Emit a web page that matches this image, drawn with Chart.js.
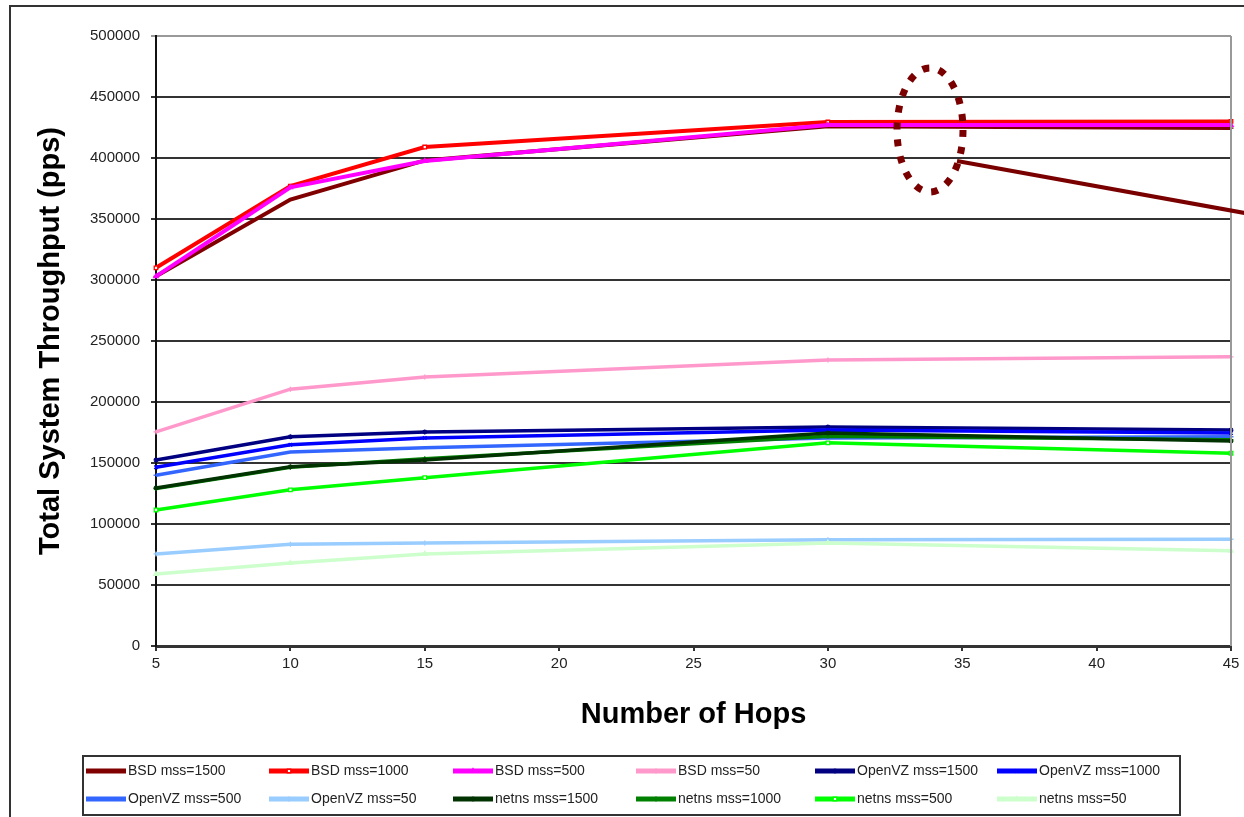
<!DOCTYPE html>
<html><head><meta charset="utf-8">
<script src="https://cdn.jsdelivr.net/npm/chart.js@4.4.0/dist/chart.umd.min.js"></script>
<style>html,body{margin:0;padding:0;background:#fff;}#wrap{width:1244px;height:817px;}</style>
</head><body><div id="wrap"><canvas id="c" width="1244" height="817"></canvas></div>
<script>
// ---- data ----
const hops = [5, 10, 15, 30, 45];
const xTickValues = [5, 10, 15, 20, 25, 30, 35, 40, 45];
const yTickValues = [0, 50000, 100000, 150000, 200000, 250000, 300000, 350000, 400000, 450000, 500000];
const seriesNames = ["BSD mss=1500", "BSD mss=1000", "BSD mss=500", "BSD mss=50",
  "OpenVZ mss=1500", "OpenVZ mss=1000", "OpenVZ mss=500", "OpenVZ mss=50",
  "netns mss=1500", "netns mss=1000", "netns mss=500", "netns mss=50"];
const bsd1500 = [303000, 366000, 398000, 426000, 424500];
const bsd1000 = [310000, 377000, 409000, 429500, 430000];
const bsd500  = [303000, 376000, 397500, 427000, 427000];
const bsd50   = [175500, 210500, 220500, 234500, 237000];
const ovz1500 = [152500, 171500, 175500, 179500, 177000];
const ovz1000 = [146500, 165000, 170500, 177000, 174500];
const ovz500  = [140000, 159000, 162500, 170500, 171500];
const ovz50   = [75500, 83500, 84500, 87000, 87500];
const ns1500  = [129500, 147000, 152500, 174500, 168000];
const ns1000  = [129000, 146500, 153500, 172000, 169000];
const ns500   = [111500, 128000, 138000, 166500, 158000];
const ns50    = [59000, 68000, 75500, 84500, 78000];
const seriesValues = [bsd1500, bsd1000, bsd500, bsd50, ovz1500, ovz1000, ovz500, ovz50, ns1500, ns1000, ns500, ns50];
const highlightHop = 33.8, highlightValue = 423000;

// ---- styles ----
const colors = ["#800000", "#FF0000", "#FF00FF", "#FF99CC", "#000080", "#0000FF", "#3366FF", "#99CCFF",
  "#003300", "#008000", "#00FF00", "#CCFFCC"];
const pStyles = ["line", "rect", "triangle", "cross", "star", "crossRot", "line", "cross",
  "star", "cross", "rect", "triangle"];
const widths = [4, 4, 4, 3.5, 3.5, 3.5, 3.5, 3.5, 3.5, 3.5, 3.5, 3.5];
const drawOrder = [0, -1, -2, -3, -4, -5, -6, -7, -10, -9, -11, -12];

const datasets = seriesNames.map((name, i) => ({
  label: name,
  data: hops.map((h, j) => ({x: h, y: seriesValues[i][j]})),
  borderColor: colors[i],
  backgroundColor: (pStyles[i] === "rect") ? "#ffffff" : colors[i],
  pointBorderColor: colors[i],
  pointStyle: pStyles[i],
  pointRadius: 2.5,
  pointBorderWidth: 1.3,
  borderWidth: widths[i],
  tension: 0,
  order: drawOrder[i],
  clip: false
}));

const decor = {
  id: "decor",
  beforeDraw(chart) {
    const ctx = chart.ctx;
    ctx.save();
    ctx.fillStyle = "#fff";
    ctx.fillRect(0, 0, chart.width, chart.height);
    ctx.restore();
  },
  afterDraw(chart) {
    const ctx = chart.ctx, a = chart.chartArea;
    const xs = chart.scales.x, ys = chart.scales.y;
    ctx.save();
    // outer frame
    ctx.strokeStyle = "#333"; ctx.lineWidth = 2;
    ctx.beginPath(); ctx.moveTo(10, 817); ctx.lineTo(10, 6); ctx.lineTo(1244, 6); ctx.stroke();
    // plot right border
    ctx.strokeStyle = "#999"; ctx.lineWidth = 2;
    ctx.beginPath(); ctx.moveTo(a.right, a.top); ctx.lineTo(a.right, a.bottom); ctx.stroke();
    // highlight ellipse
    const cx = xs.getPixelForValue(highlightHop), cy = ys.getPixelForValue(highlightValue);
    ctx.strokeStyle = "#7A0000"; ctx.lineWidth = 7; ctx.setLineDash([7, 10]);
    ctx.beginPath(); ctx.ellipse(cx, cy, 33, 62, 0, 0, Math.PI * 2); ctx.stroke();
    ctx.setLineDash([]);
    ctx.lineWidth = 4;
    ctx.beginPath(); ctx.moveTo(cx + 27, cy + 31); ctx.lineTo(1250, cy + 84); ctx.stroke();
    // legend
    ctx.strokeStyle = "#333"; ctx.lineWidth = 2;
    ctx.strokeRect(83, 756, 1097, 59);
    const colX = [86, 269, 453, 636, 815, 997];
    const rowY = [771, 799];
    ctx.font = "14px 'Liberation Sans', Arial, sans-serif";
    ctx.textBaseline = "middle";
    chart.data.datasets.forEach((ds, i) => {
      const r = Math.floor(i / 6), c = i % 6;
      const x0 = colX[c], y0 = rowY[r];
      ctx.strokeStyle = ds.borderColor; ctx.lineWidth = 5;
      ctx.beginPath(); ctx.moveTo(x0, y0); ctx.lineTo(x0 + 40, y0); ctx.stroke();
      ctx.fillStyle = ds.backgroundColor; ctx.lineWidth = 1.3;
      Chart.helpers.drawPoint(ctx, {pointStyle: ds.pointStyle, radius: 2.5, rotation: 0, borderWidth: 1.3},
        x0 + 20, y0);
      ctx.fillStyle = "#222";
      ctx.fillText(ds.label, x0 + 42, y0);
    });
    ctx.restore();
  }
};

new Chart(document.getElementById("c"), {
  type: "line",
  data: {datasets},
  options: {
    responsive: false,
    animation: false,
    devicePixelRatio: 1,
    layout: {padding: {left: 0, top: 36, right: 13, bottom: 71}},
    plugins: {legend: {display: false}, tooltip: {enabled: false}},
    scales: {
      x: {
        type: "linear", min: 5, max: 45,
        afterBuildTicks: s => { s.ticks = xTickValues.map(v => ({value: v})); },
        afterFit: s => { s.height = 100; },
        grid: {drawOnChartArea: false, drawTicks: true, tickLength: 5, color: "#333", lineWidth: 2},
        border: {color: "#333", width: 3},
        ticks: {color: "#222", font: {size: 15, family: "'Liberation Sans', Arial"}, padding: 4, maxRotation: 0},
        title: {display: true, text: "Number of Hops", color: "#000",
          font: {size: 29, weight: "bold", family: "'Liberation Sans', Arial"}, padding: {top: 0, bottom: 14}}
      },
      y: {
        type: "linear", min: 0, max: 500000,
        afterBuildTicks: s => { s.ticks = yTickValues.map(v => ({value: v})); },
        afterFit: s => { s.width = 156; },
        grid: {color: c => (c.tick && c.tick.value === 500000) ? "#999" : "#333", lineWidth: 2, tickLength: 5},
        border: {color: "#111", width: 2},
        ticks: {color: "#222", font: {size: 15, family: "'Liberation Sans', Arial"}, padding: 11,
          callback: v => String(v)},
        title: {display: true, text: "Total System Throughput (pps)", color: "#000",
          font: {size: 29, weight: "bold", family: "'Liberation Sans', Arial"}, padding: {top: 34, bottom: 0}}
      }
    }
  },
  plugins: [decor]
});
</script></body></html>
